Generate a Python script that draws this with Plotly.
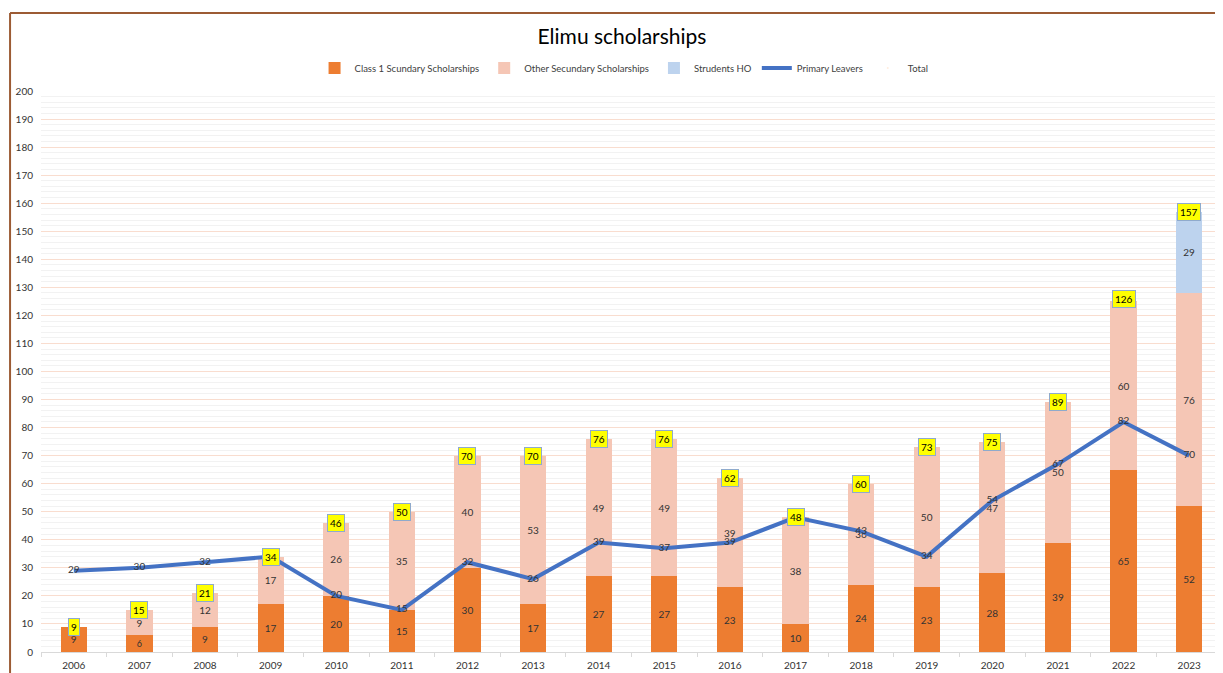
import plotly.graph_objects as go

years = [str(y) for y in range(2006, 2024)]
class1 = [9, 6, 9, 17, 20, 15, 30, 17, 27, 27, 23, 10, 24, 23, 28, 39, 65, 52]
other = [0, 9, 12, 17, 26, 35, 40, 53, 49, 49, 39, 38, 36, 50, 47, 50, 60, 76]
students_ho = [0, 0, 0, 0, 0, 0, 0, 0, 0, 0, 0, 0, 0, 0, 0, 0, 0, 29]
leavers = [29, 30, 32, 34, 20, 15, 32, 26, 39, 37, 39, 48, 43, 34, 54, 67, 82, 70]
totals = [9, 15, 21, 34, 46, 50, 70, 70, 76, 76, 62, 48, 60, 73, 75, 89, 126, 157]

FONT = "Lato, 'Open Sans', sans-serif"
LABEL = "#333333"

def lbl(vals):
    return [str(v) if v else "" for v in vals]

fig = go.Figure()
bar_common = dict(width=0.4, textposition="inside", insidetextanchor="middle",
                  textangle=0, textfont=dict(size=10, color=LABEL, family=FONT),
                  marker_line_width=0)
fig.add_trace(go.Bar(x=years, y=class1, name="Class 1 Scundary Scholarships",
                     marker_color="#ED7D31", text=lbl(class1), **bar_common))
fig.add_trace(go.Bar(x=years, y=other, name="Other Secundary Scholarships",
                     marker_color="#F5C6B5", text=lbl(other), **bar_common))
fig.add_trace(go.Bar(x=years, y=students_ho, name="Strudents HO",
                     marker_color="#BDD3EE", text=lbl(students_ho), **bar_common))
fig.add_trace(go.Scatter(x=years, y=leavers, name="Primary Leavers", mode="lines+text",
                         line=dict(color="#4472C4", width=4),
                         text=[str(v) for v in leavers], textposition="middle center",
                         textfont=dict(size=10, color=LABEL, family=FONT)))
fig.add_trace(go.Scatter(x=years, y=totals, name="Total", mode="markers",
                         marker=dict(size=1, opacity=0)))

for i, t in enumerate(totals):
    fig.add_annotation(x=i, y=t, xref="x", yref="y", text=str(t), showarrow=False,
                       font=dict(size=10, color="#000000", family=FONT),
                       bgcolor="#FFFF00", bordercolor="#8FAACC", borderwidth=1, borderpad=2)

# chart border (top and left edges)
fig.add_shape(type="line", xref="paper", yref="paper", x0=-0.0262, x1=1.01,
              y0=1.139, y1=1.139, line=dict(color="#9C5B34", width=2))
fig.add_shape(type="line", xref="paper", yref="paper", x0=-0.0262, x1=-0.0262,
              y0=1.139, y1=-0.05, line=dict(color="#9C5B34", width=2))

W, H = 1215, 665
fig.update_layout(
    width=W, height=H,
    barmode="stack",
    paper_bgcolor="white", plot_bgcolor="white",
    margin=dict(l=33, r=1, t=83, b=21, autoexpand=False),
    font=dict(family=FONT, color=LABEL),
    title=dict(text="Elimu scholarships", x=614 / W, xref="container", xanchor="center",
               y=1 - 29 / H, yref="container", yanchor="middle",
               font=dict(size=21, color="#000000", family=FONT, weight=400)),
    legend=dict(orientation="h", x=0.4937, xanchor="center", y=1.041, yanchor="middle",
                font=dict(size=9.5, color="#404040", family=FONT), traceorder="normal",
                itemwidth=30, bgcolor="rgba(0,0,0,0)"),
    showlegend=True,
)
fig.update_xaxes(type="category", range=[-0.5, 17.5], showgrid=False, showline=True,
                 linecolor="#D9D9D9", linewidth=1, ticks="outside", tickson="boundaries",
                 ticklen=4, tickcolor="#D9D9D9", tickangle=0, automargin=False,
                 ticklabelstandoff=4,
                 tickfont=dict(size=10, color="#333333", family=FONT))
fig.update_yaxes(range=[0, 200], dtick=10, showgrid=True, gridcolor="#F9DDCF", gridwidth=1,
                 zeroline=False, showline=False, ticks="", automargin=False,
                 ticklabelstandoff=7,
                 tickfont=dict(size=10, color="#333333", family=FONT),
                 minor=dict(dtick=2, showgrid=True, gridcolor="#F2F2F2", gridwidth=1))

fig.write_html("out.html")
